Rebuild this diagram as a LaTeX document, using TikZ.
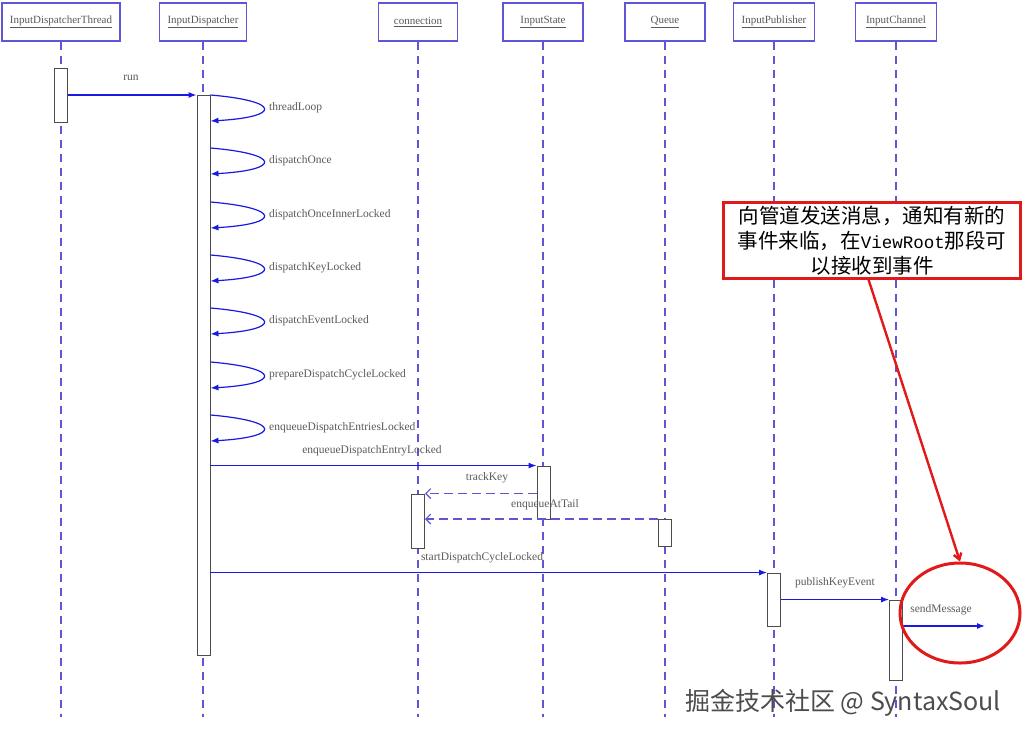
\documentclass[tikz,border=0pt]{standalone}
\usepackage{fontspec}
\setmainfont{Liberation Serif}
\newfontfamily\cjk{Noto Sans CJK SC}
\newfontfamily\monofont{Liberation Mono}
\usetikzlibrary{arrows.meta,shapes.geometric}
\definecolor{lifeblue}{RGB}{95,85,215}
\definecolor{msgblue}{RGB}{25,25,225}
\definecolor{labelgray}{RGB}{90,90,90}
\definecolor{notered}{RGB}{225,25,25}
\tikzset{
  obj/.style={draw=lifeblue, line width=1.4pt, fill=white, minimum width=#1, minimum height=38pt, inner sep=0pt, font=\fontsize{11}{13}\selectfont, text=labelgray},
  act/.style={draw=black!70, line width=0.9pt, fill=white, minimum width=13pt, minimum height=#1, inner sep=0pt},
  life/.style={draw=lifeblue, line width=1.2pt, dash pattern=on 8pt off 6pt},
  msg/.style={draw=msgblue, line width=1.2pt, -{Latex[length=8pt,width=6pt]}},
  ret/.style={draw=lifeblue, line width=1.2pt, dash pattern=on 9pt off 5pt, -{Straight Barb[length=5pt,width=10pt]}},
  lbl/.style={font=\fontsize{11.5}{13}\selectfont, text=labelgray, inner sep=1pt}
}
\begin{document}
\begin{tikzpicture}[x=1pt, y=-1pt]
\useasboundingbox[fill=white] (0,0) rectangle (1024,739);
\coordinate (bot) at (0,717);

\node[obj=118pt] (thr) at (61,22) {\underline{InputDispatcherThread}};
\node[obj=87pt] (disp) at (203,22) {\underline{InputDispatcher}};
\node[obj=79pt] (conn) at (418,22) {\underline{connection}};
\node[obj=80pt] (state) at (543,22) {\underline{InputState}};
\node[obj=80pt] (queue) at (665,22) {\underline{Queue}};
\node[obj=81pt] (pub) at (774,22) {\underline{InputPublisher}};
\node[obj=81pt] (chan) at (896,22) {\underline{InputChannel}};

\foreach \o in {thr,disp,conn,state,queue,pub,chan}
  \draw[life] (\o.south) -- (\o.south |- bot);

\node[act=54pt] (thrA) at (61,95) {};
\node[act=560pt] (dispA) at (203.5,375) {};
\node[act=54pt] (connA) at (418,521) {};
\node[act=53pt] (stateA) at (543.5,492.5) {};
\node[act=27pt] (queueA) at (665,533) {};
\node[act=53pt] (pubA) at (774,599.5) {};
\node[act=80pt] (chanA) at (896,640) {};

\draw[msg] (thrA.east) -- (thrA.east -| dispA.west);
\node[lbl] (runL) at (131,78) {run};

\foreach \y/\name [count=\i] in {95/threadLoop, 148/dispatchOnce, 202/dispatchOnceInnerLocked, 255/dispatchKeyLocked, 308/dispatchEventLocked, 362/prepareDispatchCycleLocked, 415/enqueueDispatchEntriesLocked} {
  \coordinate (s\i) at (dispA.east |- 0,\y);
  \coordinate (e\i) at (dispA.east |- 0,\y+26);
  \draw[msg] (s\i) .. controls +(71,6) and +(71,-4) .. (e\i);
  \node[lbl, anchor=west] (self\i) at (268,\y+13) {\name};
}

\draw[msg] (dispA.east |- stateA.north) -- (stateA.north west);
\node[lbl] (entryL) at (372,451) {enqueueDispatchEntryLocked};
\draw[ret] (stateA.west |- connA.north) -- (connA.north east);
\node[lbl] (trackL) at (487,478) {trackKey};
\draw[ret] (queueA.north west) -- (queueA.north west -| connA.east);
\node[lbl] (tailL) at (545,505) {enqueueAtTail};
\draw[msg] (dispA.east |- pubA.north) -- (pubA.north west);
\node[lbl] (cycleL) at (482,558) {startDispatchCycleLocked};
\draw[msg] (pubA.east |- chanA.north) -- (chanA.north west);
\node[lbl] (publishL) at (835,583) {publishKeyEvent};
\coordinate (sendEnd) at (985,626);
\draw[msg] (chanA.east |- sendEnd) -- (sendEnd);
\node[lbl] (sendL) at (941,610) {sendMessage};

\node[draw=notered, line width=2.6pt, fill=white, minimum width=297pt, minimum height=75pt, align=center, font=\cjk\fontsize{20.5}{25}\selectfont] (note) at (872,240.5) {向管道发送消息，通知有新的\\事件来临，在{\monofont\fontsize{17.5}{25}\selectfont ViewRoot}那段可\\以接收到事件};
\node[draw=notered, line width=3pt, ellipse, minimum width=120pt, minimum height=100pt] (circ) at (960,613) {};
\draw[draw=notered, line width=2.4pt, -{Straight Barb[length=6pt,width=8pt]}] (868,278) -- (circ.north);

\node[font=\cjk\fontsize{25}{27}\selectfont, text=black!70] (wm) at (843,703) {掘金技术社区 @ SyntaxSoul};
\end{tikzpicture}
\end{document}
